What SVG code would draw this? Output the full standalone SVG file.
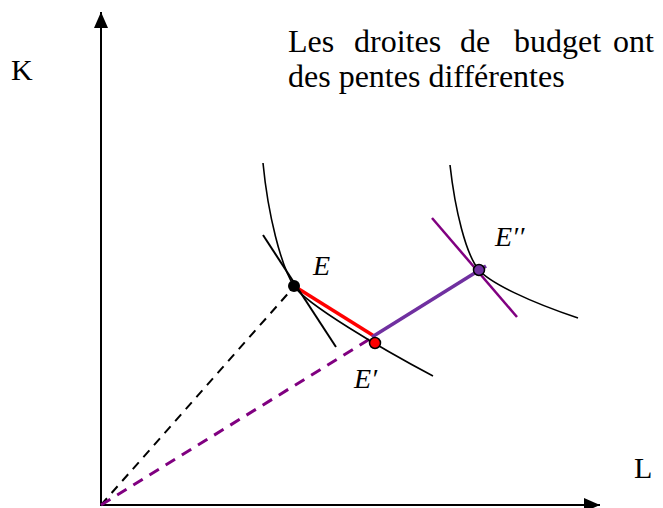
<svg xmlns="http://www.w3.org/2000/svg" width="663" height="508" viewBox="0 0 663 508">
<style>
.t{font-family:"Liberation Serif","Times New Roman",serif;font-size:32px;fill:#000}
.a{font-family:"Liberation Serif","Times New Roman",serif;font-size:30px;fill:#000}
.m{font-family:"Liberation Serif","Times New Roman",serif;font-style:italic;font-size:28px;fill:#000}
.ax{stroke:#000;stroke-width:2;fill:none}
.curve{stroke:#000;stroke-width:1.6;fill:none}
</style>
<defs>
<marker id="arrH" viewBox="0 0 16 16" refX="16" refY="8" markerWidth="16" markerHeight="16" markerUnits="userSpaceOnUse" orient="auto">
<path d="M0,1 L16,8 L0,15 z" fill="#000"/>
</marker>
</defs>
<g id="axes">
<line class="ax" x1="101" y1="506" x2="101" y2="12" marker-end="url(#arrH)"/>
<line class="ax" x1="100" y1="505" x2="600" y2="505" marker-end="url(#arrH)"/>
<text class="a" x="11" y="80">K</text>
<text class="a" x="634" y="478">L</text>
</g>
<g id="caption">
<text class="t" y="52"><tspan x="288">Les</tspan><tspan x="354">droites</tspan><tspan x="460">de</tspan><tspan x="514">budget</tspan><tspan x="613">ont</tspan></text>
<text class="t" x="288" y="87">des pentes différentes</text>
</g>
<g id="connectors">
<line x1="101" y1="505" x2="292" y2="289" stroke="#000" stroke-width="2" stroke-dasharray="9,7"/>
<line x1="101" y1="505" x2="373" y2="337" stroke="#800080" stroke-width="3" stroke-dasharray="11,8"/>
<line x1="294" y1="286" x2="374" y2="336" stroke="#FF0000" stroke-width="3.5"/>
<line x1="372" y1="337" x2="486" y2="266" stroke="#7030A0" stroke-width="3.5"/>
</g>
<g id="curve-1">
<path class="curve" d="M263,163 C268,215 281,266 294,286 C306,304 380,348 433,376"/>
<line x1="263" y1="235" x2="336" y2="347" stroke="#000" stroke-width="2"/>
</g>
<g id="curve-2">
<path class="curve" d="M450,165 C455,210 466,255 479,270 C490,283 530,302 578,318"/>
<line x1="432" y1="218" x2="517" y2="317" stroke="#800080" stroke-width="2.5"/>
</g>
<g id="node-E">
<circle cx="294" cy="286" r="6" fill="#000"/>
<text class="m" x="313" y="275">E</text>
</g>
<g id="node-E1">
<circle cx="375" cy="343" r="5.5" fill="#FF0000" stroke="#000" stroke-width="1.5"/>
<text class="m" x="354" y="388">E′</text>
</g>
<g id="node-E2">
<circle cx="479" cy="270" r="5.5" fill="#7030A0" stroke="#000" stroke-width="1.5"/>
<text class="m" x="495" y="246">E′′</text>
</g>
</svg>
